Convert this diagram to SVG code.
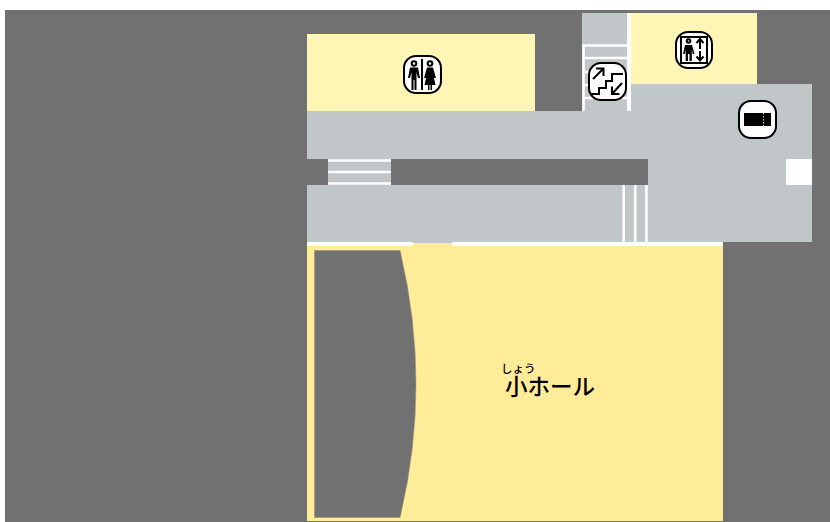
<svg xmlns="http://www.w3.org/2000/svg" width="830" height="522" viewBox="0 0 830 522">
<style>
.bg{fill:#717171}.floor{fill:#c1c6c8}.w{fill:#fff}.wl{stroke:#fff;stroke-width:2.600;fill:none}
.ib{fill:#fff;stroke:#000;stroke-width:2}.ic{fill:none;stroke:#000;stroke-width:2}.k{fill:#000}
text{font-family:"Noto Sans CJK JP","Liberation Sans",sans-serif;fill:#000}
</style>
<rect width="830" height="522" fill="#fff"/>
<rect class="bg" x="5" y="10" width="825" height="512"/>
<g id="floor">
<rect x="307" y="34" width="228" height="77" fill="#fff5b4"/>
<rect x="631" y="13" width="126" height="71" fill="#fff5b4"/>
<rect class="floor" x="582" y="13" width="45" height="98"/>
<rect class="floor" x="307" y="111" width="341" height="48"/>
<rect class="floor" x="631" y="84" width="181" height="75"/>
<rect class="floor" x="648" y="159" width="164" height="83"/>
<rect class="floor" x="307" y="185" width="341" height="58"/>
<rect class="floor" x="328" y="159" width="63" height="26"/>
<rect class="w" x="786" y="159" width="26" height="26"/>
</g>
<g id="hall">
<rect x="307" y="243" width="416" height="278" fill="#ffec99"/>
<rect class="w" x="307" y="242" width="106" height="4"/>
<rect class="w" x="452" y="242" width="271" height="4"/>
<path class="bg" stroke="#8f8c78" stroke-width="0.500" d="M314.500 250.500H400Q432 384 400 517.500H314.500Z"/>
<text x="501" y="372.500" font-size="11.500" font-weight="500">しょう</text>
<text x="505" y="395" font-size="22.500" font-weight="500">小ホール</text>
</g>
<g id="connectors">
<path class="wl" d="M583.500 44V111"/>
<path class="w" d="M627 13H631V111H627Z"/>
<path class="wl" d="M584 45.500H627M584 58H627M584 72H627M584 85H627M584 98H627"/>
<path class="wl" d="M328 160.500H391M328 172H391M328 183.500H391"/>
<path class="wl" d="M623.700 185V242M635.200 185V242M646.400 185V242"/>
</g>
<g id="restroom">
<rect class="ib" x="404" y="56" width="37" height="37" rx="12"/>
<path class="ic" d="M422 59V90"/>
<circle class="ic" cx="414" cy="63.500" r="2.300" stroke-width="1.400"/>
<circle class="ic" cx="430" cy="63.500" r="2.300" stroke-width="1.400"/>
<path class="k" d="M410 67.500H418L420 78H418L416.500 72V90H414.500V80H413.500V90H411.500V72L410 78H408Z"/>
<path class="k" d="M427 67.500H433L436 78H434L435.500 85H432V90H430.500V85H429.500V90H428V85H424.500L426 78H424Z"/>
</g>
<g id="stairs">
<rect class="ib" x="589" y="63" width="37" height="37" rx="12"/>
<path class="ic" d="M591 94H599V88H606V81H612V74H623"/>
<path class="ic" d="M593 79L603 69M596 68.500H603.500V76M622 83L612 94M612 86.500V94H619.500"/>
</g>
<g id="elevator">
<rect class="ib" x="676" y="32" width="36" height="36" rx="12"/>
<rect class="ic" x="681" y="37" width="26" height="26" stroke-width="1.600"/>
<circle class="ic" cx="688.500" cy="41" r="1.800" stroke-width="1.100"/>
<path class="k" d="M685 45H692L694.500 54H692.800L691.800 49.500V61H689.500V54H688V61H685.700V49.500L684.700 54H683Z"/>
<path class="ic" stroke-width="1.500" d="M700 39V49M696.500 43L700 39L703.500 43M700 51V60.500M696.500 56.500L700 60.500L703.500 56.500"/>
</g>
<g id="ticket">
<rect class="ib" x="739" y="101" width="37" height="37" rx="12"/>
<rect class="k" x="744" y="113" width="27" height="13"/>
<path stroke="#fff" stroke-width="0.800" stroke-dasharray="1.500 1.500" d="M763.500 113V126"/>
</g>
</svg>
